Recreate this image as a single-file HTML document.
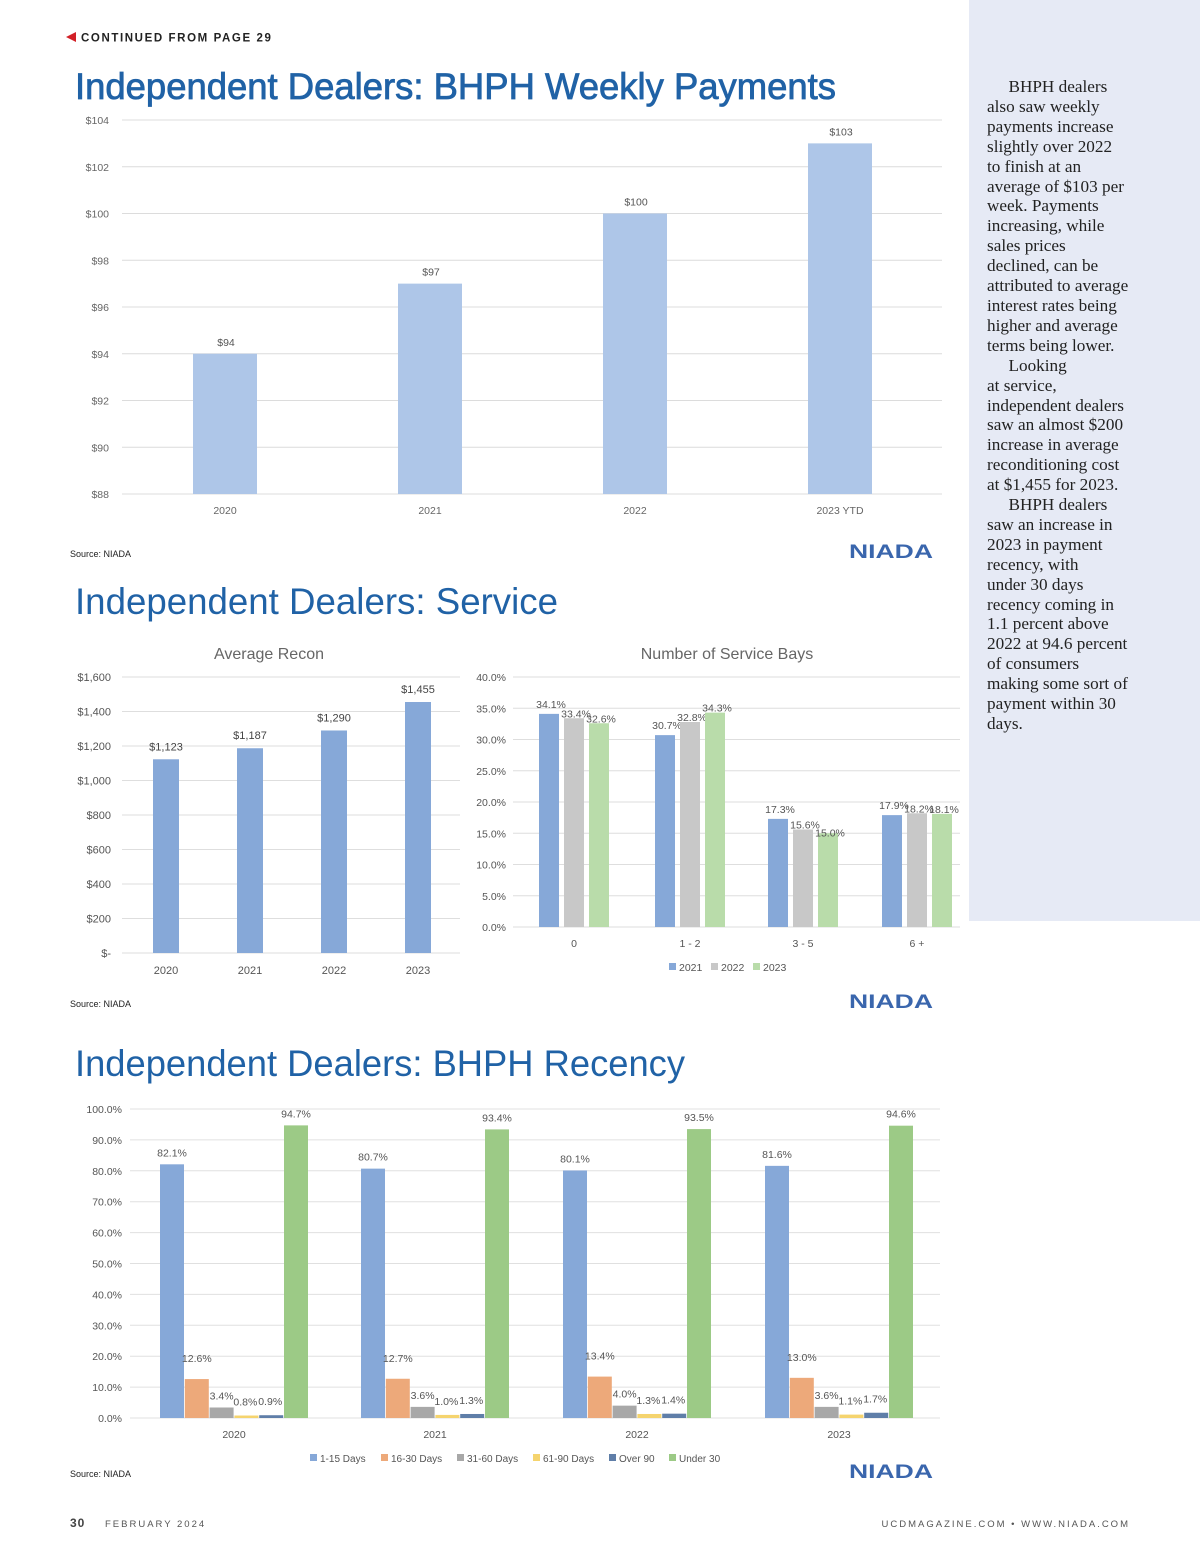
<!DOCTYPE html>
<html><head><meta charset="utf-8">
<style>
html,body{margin:0;padding:0;background:#fff;}
body{width:1200px;height:1558px;position:relative;overflow:hidden;font-family:"Liberation Sans",sans-serif;}
#side{position:absolute;left:969px;top:0;width:231px;height:921px;background:#e6eaf5;}
#sidetext{position:absolute;left:987px;top:77px;width:200px;font-family:"Liberation Serif",serif;font-size:17.2px;line-height:19.9px;color:#222;}
svg text{font-family:"Liberation Sans",sans-serif;}
</style></head>
<body>
<div id="side"></div>
<div id="sidetext">&nbsp;&nbsp;&nbsp;&nbsp;&nbsp;BHPH dealers<br>also saw weekly<br>payments increase<br>slightly over 2022<br>to finish at an<br>average of $103 per<br>week. Payments<br>increasing, while<br>sales prices<br>declined, can be<br>attributed to average<br>interest rates being<br>higher and average<br>terms being lower.<br>&nbsp;&nbsp;&nbsp;&nbsp;&nbsp;Looking<br>at service,<br>independent dealers<br>saw an almost $200<br>increase in average<br>reconditioning cost<br>at $1,455 for 2023.<br>&nbsp;&nbsp;&nbsp;&nbsp;&nbsp;BHPH dealers<br>saw an increase in<br>2023 in payment<br>recency, with<br>under 30 days<br>recency coming in<br>1.1 percent above<br>2022 at 94.6 percent<br>of consumers<br>making some sort of<br>payment within 30<br>days.</div>
<svg id="main" width="1200" height="1558" style="position:absolute;left:0;top:0">
<polygon points="66,37 76,32 76,42" fill="#d22027"/>
<text x="81" y="41.5" font-size="11.5" font-weight="bold" letter-spacing="1.6" fill="#222">CONTINUED FROM PAGE 29</text>
<text x="75" y="99" font-size="37" fill="#2062a6" stroke="#2062a6" stroke-width="0.8" textLength="761" lengthAdjust="spacingAndGlyphs">Independent Dealers:  BHPH Weekly Payments</text>
<text x="75" y="614" font-size="37" fill="#2062a6" textLength="483" lengthAdjust="spacingAndGlyphs">Independent Dealers:  Service</text>
<text x="75" y="1076" font-size="37" fill="#2062a6" textLength="610" lengthAdjust="spacingAndGlyphs">Independent Dealers:  BHPH Recency</text>
<g id="c1"></g><g id="c2"></g><g id="c3"></g><g id="c4"></g>
<text x="70" y="557" font-size="9" fill="#222">Source:  NIADA</text>
<text x="70" y="1007" font-size="9" fill="#222">Source:  NIADA</text>
<text x="70" y="1477" font-size="9" fill="#222">Source:  NIADA</text>
<text x="849" y="558" font-size="19" font-weight="bold" fill="#3a66ad" textLength="84" lengthAdjust="spacingAndGlyphs">NIADA</text>
<text x="849" y="1008" font-size="19" font-weight="bold" fill="#3a66ad" textLength="84" lengthAdjust="spacingAndGlyphs">NIADA</text>
<text x="849" y="1478" font-size="19" font-weight="bold" fill="#3a66ad" textLength="84" lengthAdjust="spacingAndGlyphs">NIADA</text>
<text x="70" y="1527" font-size="12" font-weight="bold" letter-spacing="1" fill="#444">30</text>
<text x="105" y="1527" font-size="9.5" letter-spacing="2" fill="#555">FEBRUARY 2024</text>
<text x="1130" y="1527" font-size="9.5" letter-spacing="2" fill="#555" text-anchor="end">UCDMAGAZINE.COM • WWW.NIADA.COM</text>
</svg>
<script>
// Chart 1: weekly payments
const payCats = ["2020","2021","2022","2023 YTD"];
const payVals = [94, 97, 100, 103];
const payTicks = [88,90,92,94,96,98,100,102,104];
// Chart 2: average recon
const reconCats = ["2020","2021","2022","2023"];
const reconVals = [1123, 1187, 1290, 1455];
const reconTicks = [0,200,400,600,800,1000,1200,1400,1600];
// Chart 3: service bays
const baysCats = ["0","1 - 2","3 - 5","6 +"];
const baysSeries = ["2021","2022","2023"];
const bays2021 = [34.1, 30.7, 17.3, 17.9];
const bays2022 = [33.4, 32.8, 15.6, 18.2];
const bays2023 = [32.6, 34.3, 15.0, 18.1];
const baysTicks = [0,5,10,15,20,25,30,35,40];
// Chart 4: recency
const recCats = ["2020","2021","2022","2023"];
const recSeries = ["1-15 Days","16-30 Days","31-60 Days","61-90 Days","Over 90","Under 30"];
const rec1_15 = [82.1, 80.7, 80.1, 81.6];
const rec16_30 = [12.6, 12.7, 13.4, 13.0];
const rec31_60 = [3.4, 3.6, 4.0, 3.6];
const rec61_90 = [0.8, 1.0, 1.3, 1.1];
const recOver90 = [0.9, 1.3, 1.4, 1.7];
const recUnder30 = [94.7, 93.4, 93.5, 94.6];
const recTicks = [0,10,20,30,40,50,60,70,80,90,100];

const NS="http://www.w3.org/2000/svg";
function mk(parent,tag,attrs,txt){const e=document.createElementNS(NS,tag);for(const k in attrs)e.setAttribute(k,attrs[k]);if(txt!==undefined)e.textContent=txt;parent.appendChild(e);return e;}
function lin(d0,d1,r0,r1){return v=>r0+(v-d0)*(r1-r0)/(d1-d0);}

// ---- Chart 1
(function(){
 const g=document.getElementById('c1');
 const y=lin(88,104,494,120);
 payTicks.forEach(t=>{
  const l=mk(g,'line',{x1:122,x2:942,y1:y(t),y2:y(t),stroke:'#dcdcdc','stroke-width':1});
  
  
  const tx=mk(g,'text',{x:109,y:y(t)+4,'font-size':10.5,fill:'#666','text-anchor':'end'},'$'+t);
  
  
 });
 const step=205, x0=225;
 payCats.forEach((c,i)=>{
  const cx=x0+i*step, v=payVals[i];
  const r=mk(g,'rect',{x:cx-32,y:y(v),width:64,height:y(88)-y(v),fill:'#aec6e8'});
  
  
  const lb=mk(g,'text',{x:cx+1,y:y(v)-8,'font-size':10.5,fill:'#555','text-anchor':'middle'},'$'+v);
  
  
  const xl=mk(g,'text',{x:cx,y:514,'font-size':10.5,fill:'#666','text-anchor':'middle'},c);
  
  
 });
})();

// ---- Chart 2
(function(){
 const g=document.getElementById('c2');
 const y=lin(0,1600,953,677);
 const t=mk(g,'text',{x:269,y:659,'font-size':16,fill:'#666','text-anchor':'middle'},'Average Recon');
 
 
 reconTicks.forEach(v=>{
  const l=mk(g,'line',{x1:122,x2:460,y1:y(v),y2:y(v),stroke:'#dedede','stroke-width':1});
  
  
  const s=v===0?'$-':'$'+v.toLocaleString('en-US');
  const tx=mk(g,'text',{x:111,y:y(v)+4,'font-size':11,fill:'#555','text-anchor':'end'},s);
  
  
 });
 reconCats.forEach((c,i)=>{
  const cx=166+i*84, v=reconVals[i];
  const r=mk(g,'rect',{x:cx-13,y:y(v),width:26,height:y(0)-y(v),fill:'#86a8d8'});
  
  
  const lb=mk(g,'text',{x:cx,y:y(v)-9,'font-size':11,fill:'#444','text-anchor':'middle'},'$'+v.toLocaleString('en-US'));
  
  
  const xl=mk(g,'text',{x:cx,y:974,'font-size':11,fill:'#555','text-anchor':'middle'},c);
  
  
 });
})();

// ---- Chart 3
(function(){
 const g=document.getElementById('c3');
 const y=lin(0,40,927,677);
 const t=mk(g,'text',{x:727,y:659,'font-size':16,fill:'#666','text-anchor':'middle'},'Number of Service Bays');
 
 
 baysTicks.forEach(v=>{
  const l=mk(g,'line',{x1:513,x2:960,y1:y(v),y2:y(v),stroke:'#dedede','stroke-width':1});
  
  
  const tx=mk(g,'text',{x:506,y:y(v)+4,'font-size':10.5,fill:'#555','text-anchor':'end'},v.toFixed(1)+'%');
  
  
 });
 const series=[bays2021,bays2022,bays2023], colors=['#86a8d8','#c8c8c8','#b9dcaa'];
 const centers=[574,690,803,917];
 baysCats.forEach((c,i)=>{
  const xl=mk(g,'text',{x:centers[i],y:947,'font-size':10.5,fill:'#555','text-anchor':'middle'},c);
  
  
  series.forEach((s,j)=>{
   const cx=centers[i]+(j-1)*25, v=s[i];
   const r=mk(g,'rect',{x:cx-10,y:y(v),width:20,height:y(0)-y(v),fill:colors[j]});
   
   
   const lb=mk(g,'text',{x:cx+2,y:y(v)-6+(j===1?5:j===2?5+(i===2?4:0):0),'font-size':10.5,fill:'#555','text-anchor':'middle'},v.toFixed(1)+'%');
   
   
  });
 });
 let lx=669;
 baysSeries.forEach((s,j)=>{
  const sw=mk(g,'rect',{x:lx,y:963,width:7,height:7,fill:colors[j]});
  
  
  const tx=mk(g,'text',{x:lx+10,y:971,'font-size':10.5,fill:'#555'},s);
  
  
  lx+=42;
 });
})();

// ---- Chart 4
(function(){
 const g=document.getElementById('c4');
 const y=lin(0,100,1418,1109);
 recTicks.forEach(v=>{
  const l=mk(g,'line',{x1:130,x2:940,y1:y(v),y2:y(v),stroke:'#e0e0e0','stroke-width':1});
  
  
  const tx=mk(g,'text',{x:122,y:y(v)+4,'font-size':10.5,fill:'#555','text-anchor':'end'},v.toFixed(1)+'%');
  
  
 });
 const series=[rec1_15,rec16_30,rec31_60,rec61_90,recOver90,recUnder30];
 const colors=['#86a8d8','#eda97a','#a8a8a8','#f5d46e','#5f7ea8','#9cca86'];
 const centers=[234,435,637,839];
 recCats.forEach((c,i)=>{
  const xl=mk(g,'text',{x:centers[i],y:1438,'font-size':10.5,fill:'#555','text-anchor':'middle'},c);
  
  
  series.forEach((s,j)=>{
   const cx=centers[i]+(j-2.5)*24.8, v=s[i];
   const r=mk(g,'rect',{x:cx-12,y:y(v),width:24,height:Math.max(1,y(0)-y(v)),fill:colors[j]});
   
   
   const lx=cx+(j===3?-1:j===4?-1:0);
   const ly=j===1?y(v)-17:(j===3||j===4)?y(v)-10:y(v)-8;
   const lb=mk(g,'text',{x:lx,y:ly,'font-size':10.5,fill:'#555','text-anchor':'middle'},v.toFixed(1)+'%');
   
   
  });
 });
 let lx=310;
 const widths=[71,76,76,76,60,60];
 recSeries.forEach((s,j)=>{
  const sw=mk(g,'rect',{x:lx,y:1454,width:7,height:7,fill:colors[j]});
  
  
  const tx=mk(g,'text',{x:lx+10,y:1462,'font-size':10,fill:'#555'},s);
  
  
  lx+=widths[j];
 });
})();
</script>
</body></html>
